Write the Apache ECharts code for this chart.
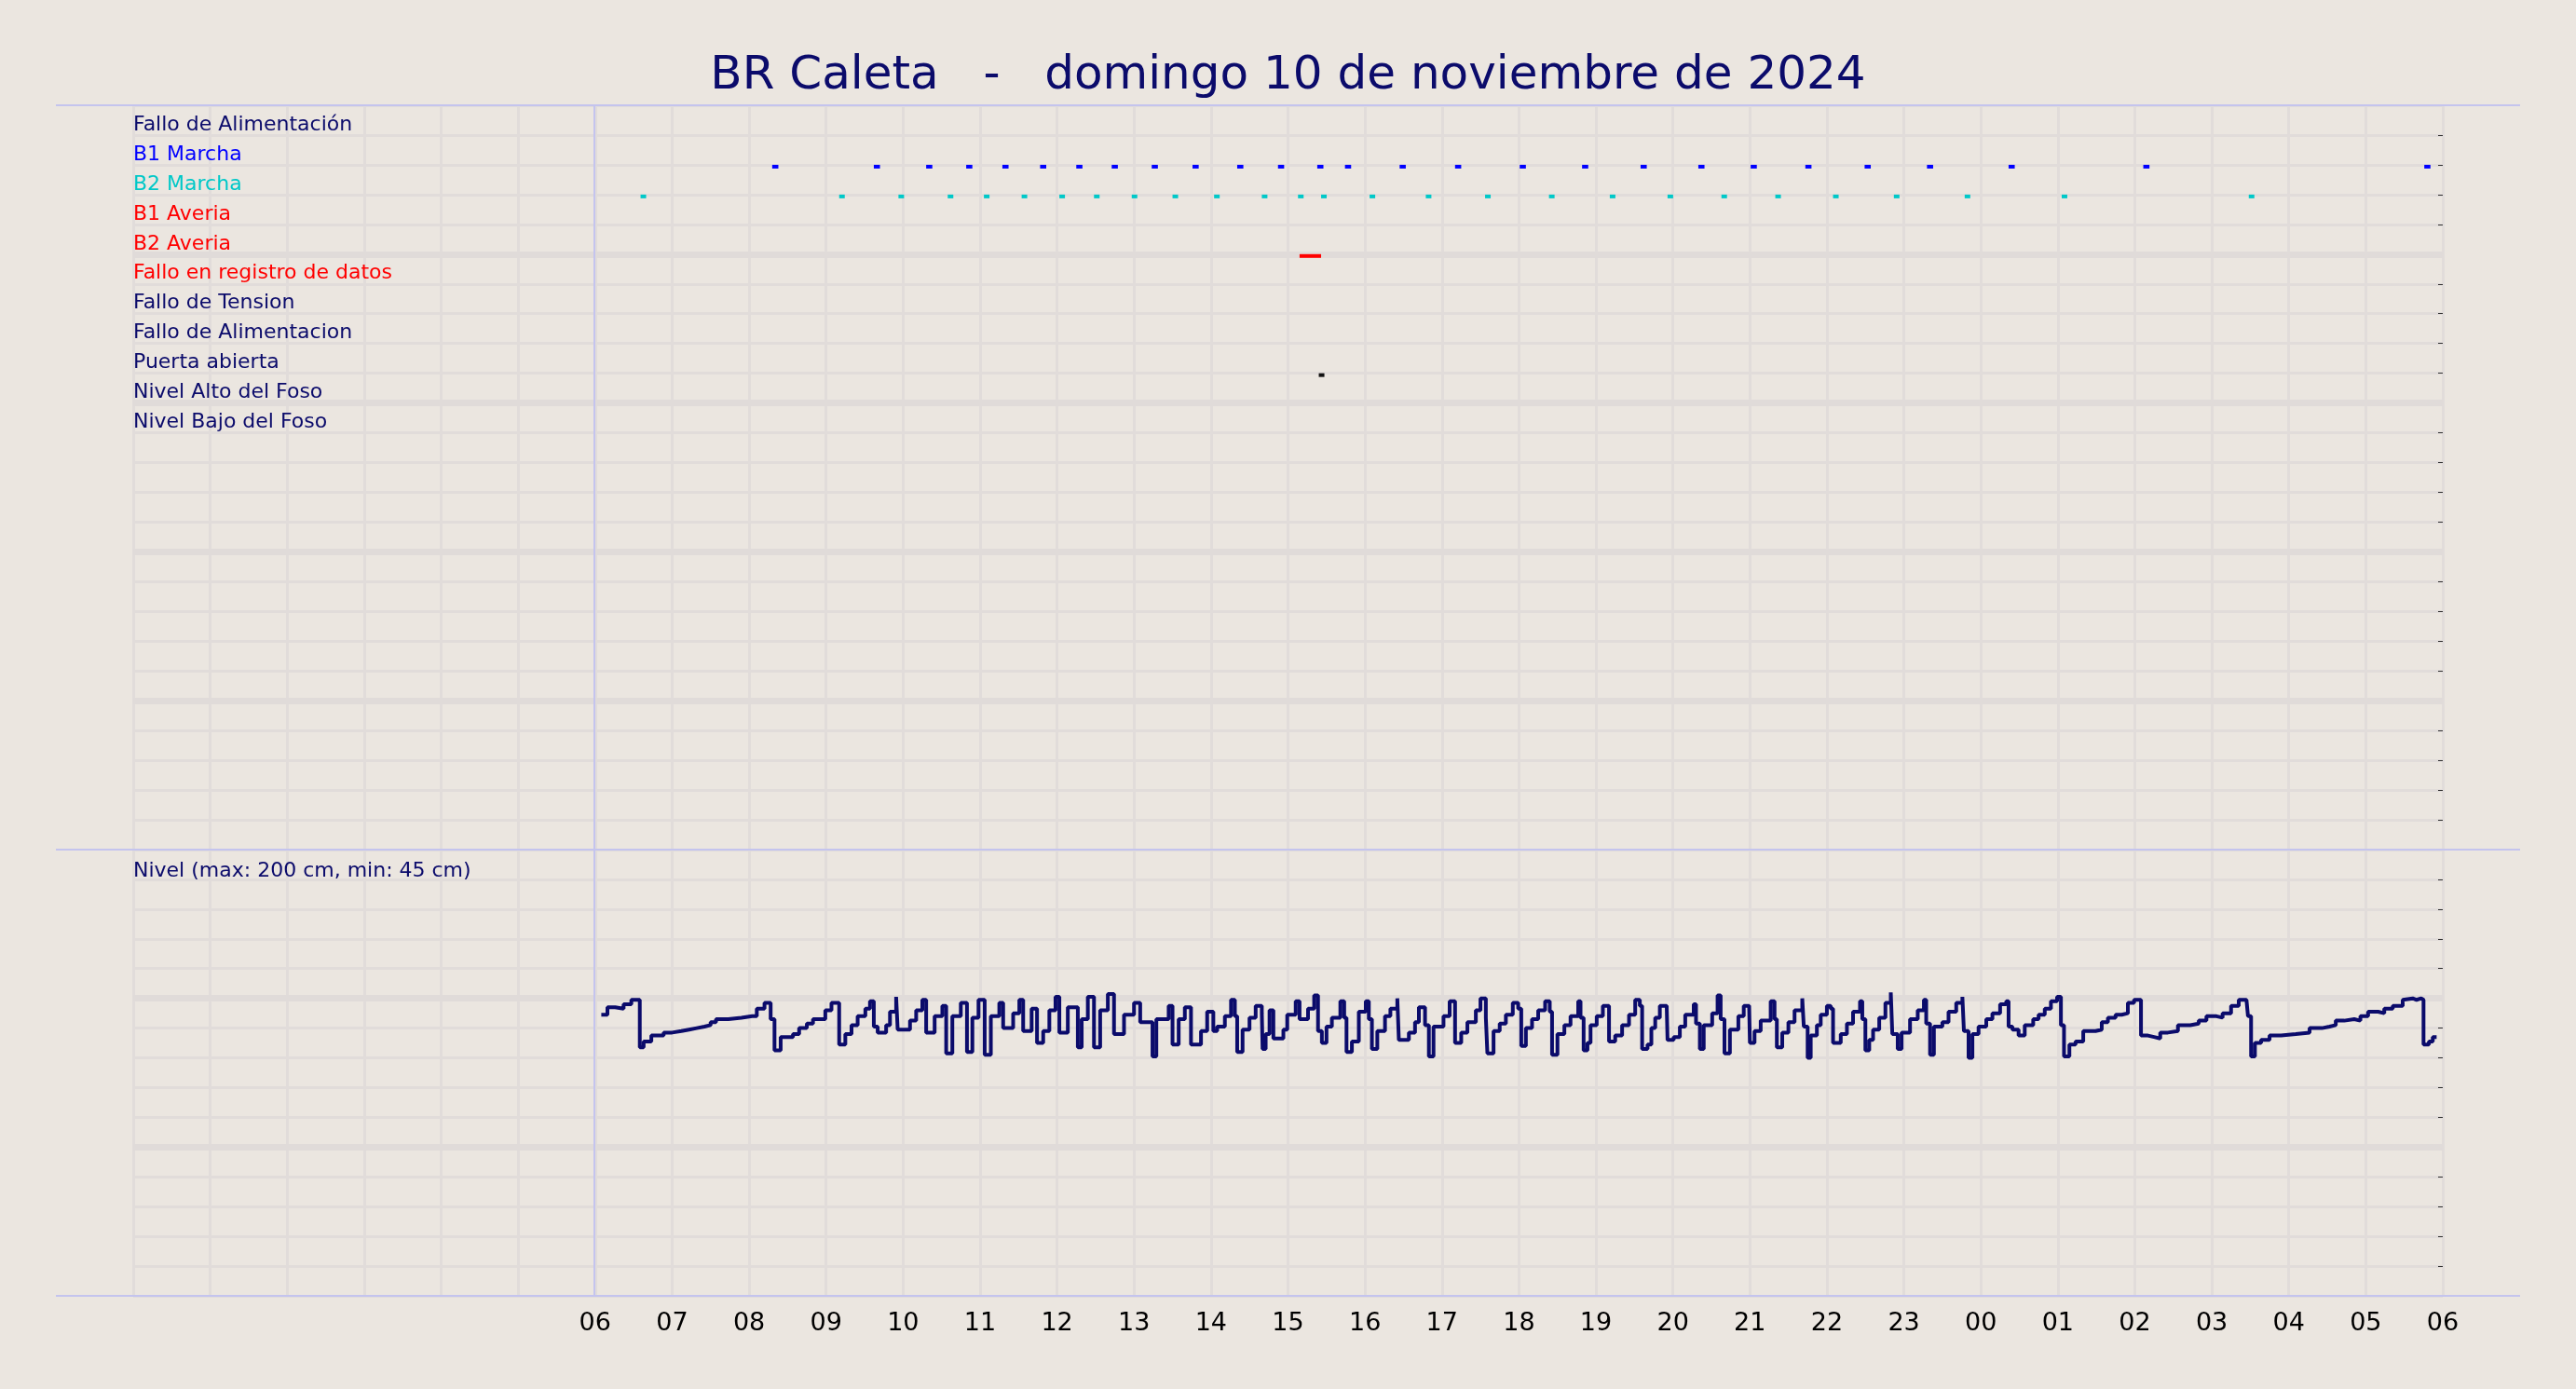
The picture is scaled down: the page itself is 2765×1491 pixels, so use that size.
<!DOCTYPE html>
<html>
<head>
<meta charset="utf-8">
<script src="https://cdn.jsdelivr.net/npm/echarts@6/dist/echarts.min.js"></script>
<style>html,body{margin:0;background:#ebe6e0}#main{width:2765px;height:1491px}</style>
</head>
<body>
<div id="main"></div>
<script>
// nombres de las señales
const signalNames = ['Fallo de Alimentación', 'B1 Marcha', 'B2 Marcha', 'B1 Averia', 'B2 Averia',
  'Fallo en registro de datos', 'Fallo de Tension', 'Fallo de Alimentacion', 'Puerta abierta',
  'Nivel Alto del Foso', 'Nivel Bajo del Foso']
const signalColors = ['#0b0b6b', '#0000ff', '#00c8c8', '#ff0000', '#ff0000', '#ff0000',
  '#0b0b6b', '#0b0b6b', '#0b0b6b', '#0b0b6b', '#0b0b6b']

// horas de arranque (horas desde 00:00 del día anterior)
const b1Marcha = [8.30, 9.62, 10.30, 10.82, 11.29, 11.78, 12.25, 12.71, 13.23, 13.76, 14.34, 14.87,
  15.38, 15.74, 16.45, 17.17, 18.01, 18.82, 19.58, 20.33, 21.01, 21.72, 22.49, 23.30, 24.36, 26.11, 29.76]
const b2Marcha = [6.59, 9.17, 9.94, 10.58, 11.05, 11.54, 12.03, 12.48, 12.97, 13.50, 14.04, 14.66,
  15.13, 15.43, 16.06, 16.79, 17.56, 18.39, 19.18, 19.93, 20.63, 21.33, 22.08, 22.87, 23.79, 25.05, 27.48]
const b2Averia = [[15.15, 15.43]]
const puertaAbierta = [15.40]

// nivel [hora, cm]
const nivel = [
  [6.08,189],[6.16,194],[6.26,193],[6.37,196],[6.47,199],[6.58,167],[6.63,171],[6.73,175],[6.89,177],
  [7.00,178],[7.12,179],[7.22,180],[7.32,181],[7.42,182],[7.50,184],
  [7.57,186],[7.73,187],[7.90,188],[8.04,188],[8.10,193],[8.20,197],[8.28,186],[8.33,165],[8.41,174],[8.57,176],
  [8.65,180],[8.75,183],[8.83,186],[8.99,192],[9.07,197],[9.17,169],[9.25,176],[9.33,182],[9.41,188],
  [9.51,193],[9.57,198],[9.62,181],[9.67,177],[9.78,182],[9.83,191],[9.91,201],[9.93,179],[10.09,185],
  [10.17,192],[10.25,199],[10.30,177],[10.41,188],[10.51,195],[10.56,163],[10.64,188],[10.75,197],
  [10.83,164],[10.90,187],[10.98,199],[11.06,162],[11.14,188],[11.25,197],[11.30,180],[11.43,190],
  [11.51,199],[11.56,178],[11.67,193],[11.74,170],[11.82,178],[11.90,192],[11.98,201],[12.03,177],
  [12.14,194],[12.27,167],[12.32,186],[12.40,201],[12.48,167],[12.56,192],[12.66,203],[12.74,176],
  [12.87,189],[13.00,197],[13.08,184],[13.24,161],[13.29,186],[13.45,195],[13.50,169],[13.58,186],
  [13.66,194],[13.74,169],[13.87,178],[13.95,191],[14.03,178],[14.08,181],[14.18,188],[14.26,199],
  [14.31,188],[14.34,164],[14.41,179],[14.50,187],[14.58,195],[14.66,190],[14.67,166],[14.71,176],
  [14.76,192],[14.81,173],[14.94,179],[14.99,189],[15.10,198],[15.15,186],[15.26,193],[15.34,202],
  [15.39,178],[15.44,170],[15.50,181],[15.57,187],[15.68,198],[15.73,187],[15.76,164],[15.83,171],
  [15.92,191],[16.01,198],[16.05,186],[16.09,166],[16.16,178],[16.26,188],[16.33,193],[16.42,200],
  [16.44,172],[16.57,177],[16.65,184],[16.70,194],[16.78,182],[16.83,161],[16.89,181],[17.02,188],
  [17.10,198],[17.17,170],[17.25,177],[17.33,184],[17.44,192],[17.50,200],[17.57,187],[17.59,163],
  [17.67,178],[17.75,183],[17.83,189],[17.92,197],[17.99,193],[18.03,168],[18.09,180],[18.17,186],
  [18.25,192],[18.34,198],[18.40,191],[18.43,162],[18.50,176],[18.59,182],[18.67,188],[18.77,198],
  [18.80,187],[18.84,165],[18.89,170],[18.93,182],[19.01,188],[19.09,195],[19.17,171],[19.25,175],
  [19.34,182],[19.43,189],[19.51,199],[19.57,195],[19.60,166],[19.67,169],[19.72,180],[19.77,187],
  [19.83,195],[19.92,193],[19.93,172],[20.01,174],[20.09,181],[20.16,189],[20.27,196],[20.30,183],
  [20.35,166],[20.40,182],[20.51,190],[20.58,202],[20.62,186],[20.67,163],[20.74,179],[20.85,188],
  [20.92,195],[20.99,194],[21.00,170],[21.06,178],[21.14,185],[21.27,198],[21.32,186],[21.35,167],
  [21.42,177],[21.50,184],[21.58,192],[21.68,200],[21.70,181],[21.75,160],[21.79,175],[21.87,182],
  [21.92,189],[22.00,195],[22.05,193],[22.08,170],[22.18,176],[22.26,183],[22.34,191],[22.43,198],
  [22.46,186],[22.50,165],[22.55,172],[22.60,179],[22.68,187],[22.76,197],[22.83,204],[22.85,176],
  [22.92,166],[22.97,177],[23.08,186],[23.18,192],[23.26,199],[23.29,183],[23.34,162],[23.39,181],
  [23.50,184],[23.58,191],[23.68,197],[23.76,201],[23.78,178],[23.84,160],[23.89,176],[23.97,181],
  [24.07,186],[24.15,190],[24.25,196],[24.33,198],[24.36,181],[24.41,179],[24.49,175],[24.57,182],
  [24.68,186],[24.75,189],[24.83,193],[24.91,198],[24.99,201],[25.04,182],[25.08,161],[25.15,169],
  [25.23,171],[25.33,178],[25.49,179],[25.57,184],[25.65,187],[25.75,189],[25.83,190],[25.91,197],
  [25.99,199],[26.08,175],[26.17,174],[26.25,173],[26.33,177],[26.43,178],[26.56,182],[26.72,183],
  [26.83,185],[26.93,188],[27.06,187],[27.14,190],[27.25,195],[27.35,199],[27.45,200],[27.47,188],
  [27.51,161],[27.56,170],[27.64,172],[27.75,175],[27.90,176],[28.09,177],[28.27,180],[28.43,181],
  [28.53,182],[28.61,185],[28.72,186],[28.85,185],[28.93,188],[29.03,191],[29.16,190],[29.24,193],
  [29.35,195],[29.48,199],[29.50,200],[29.61,199],[29.66,200],[29.72,199],[29.75,169],[29.82,171],[29.87,174],[29.92,174]
]
const hourLabels = ['06','07','08','09','10','11','12','13','14','15','16','17','18','19','20','21','22','23','00','01','02','03','04','05','06']

// segmentos de eventos: [inicio, fin, fila, color]
const eventos = []
b1Marcha.forEach(h => eventos.push([h, h + 0.08, 2, signalColors[1]]))
b2Marcha.forEach(h => eventos.push([h, h + 0.07, 3, signalColors[2]]))
b2Averia.forEach(r => eventos.push([r[0], r[1], 5, signalColors[4]]))
puertaAbierta.forEach(h => eventos.push([h, h + 0.05, 9, '#111111']))

const gridColor = '#e1dcda'
const navy = '#0b0b6b'
const sepColor = '#c4c4ee'
const xBase = {
  type: 'value', min: 0, max: 30, interval: 1,
  axisLine: { show: false }, axisTick: { show: false },
  splitLine: { show: true, lineStyle: { color: gridColor, width: 3 } }
}
const chart = echarts.init(document.getElementById('main'))
chart.setOption({
  backgroundColor: '#ebe6e0',
  animation: false,
  title: {
    text: 'BR Caleta   -   domingo 10 de noviembre de 2024', left: 'center', top: 52,
    textStyle: { color: navy, fontSize: 50, fontWeight: 'normal', fontFamily: 'DejaVu Sans' }
  },
  grid: [
    { left: 143, top: 113, width: 2479, height: 799 },
    { left: 143, top: 912, width: 2479, height: 479 }
  ],
  xAxis: [
    Object.assign({ gridIndex: 0, axisLabel: { show: false } }, xBase),
    Object.assign({ gridIndex: 1, axisLabel: {
      show: true, fontSize: 27, color: '#000', fontFamily: 'DejaVu Sans', margin: 16,
      formatter: v => (v >= 6 ? hourLabels[v - 6] : '')
    } }, xBase)
  ],
  yAxis: [
    { gridIndex: 0, type: 'value', min: 0, max: 25, interval: 1, inverse: true,
      axisLine: { show: false }, axisTick: { show: false },
      splitLine: { lineStyle: { color: gridColor, width: 3 } },
      axisLabel: { inside: true, margin: 0, verticalAlign: 'bottom', fontSize: 22, fontFamily: 'DejaVu Sans',
        formatter: v => (v >= 1 && v <= 11 ? signalNames[v - 1] : ''),
        color: (v) => signalColors[Math.max(0, Math.min(10, Math.round(v) - 1))] } },
    { gridIndex: 0, type: 'value', min: 0, max: 25, interval: 1, inverse: true, position: 'right',
      axisLine: { show: false }, splitLine: { show: false }, axisLabel: { show: false },
      axisTick: { show: true, inside: true, length: 5, lineStyle: { color: '#333' } } },
    { gridIndex: 1, type: 'value', min: 0, max: 300, interval: 20,
      axisLine: { show: false }, axisTick: { show: false }, axisLabel: { show: false },
      splitLine: { lineStyle: { color: gridColor, width: 3 } } },
    { gridIndex: 1, type: 'value', min: 0, max: 300, interval: 20, position: 'right',
      axisLine: { show: false }, splitLine: { show: false }, axisLabel: { show: false },
      axisTick: { show: true, inside: true, length: 5, lineStyle: { color: '#333' } } }
  ],
  graphic: [
    { type: 'line', z: 100, shape: { x1: 60, y1: 113, x2: 2705, y2: 113 }, style: { stroke: sepColor, lineWidth: 2 } },
    { type: 'line', z: 100, shape: { x1: 60, y1: 912, x2: 2705, y2: 912 }, style: { stroke: sepColor, lineWidth: 2 } },
    { type: 'line', z: 100, shape: { x1: 60, y1: 1391, x2: 2705, y2: 1391 }, style: { stroke: sepColor, lineWidth: 2 } },
    { type: 'line', z: 100, shape: { x1: 638, y1: 113, x2: 638, y2: 1391 }, style: { stroke: sepColor, lineWidth: 2 } },
    { type: 'text', z: 100, left: 143, top: 924, style: { text: 'Nivel (max: 200 cm, min: 45 cm)', fill: navy, fontSize: 22, fontFamily: 'DejaVu Sans' } }
  ],
  series: [
    { type: 'line', xAxisIndex: 0, yAxisIndex: 0, data: [], silent: true, z: 1,
      markLine: { silent: true, symbol: 'none', label: { show: false },
        lineStyle: { color: '#e0dbd9', width: 7, type: 'solid' },
        data: [{ yAxis: 5 }, { yAxis: 10 }, { yAxis: 15 }, { yAxis: 20 }] } },
    { type: 'custom', xAxisIndex: 0, yAxisIndex: 0, data: eventos, z: 10,
      renderItem: (params, api) => {
        const a = api.coord([api.value(0), api.value(2)])
        const b = api.coord([api.value(1), api.value(2)])
        return { type: 'line', z2: 10, shape: { x1: a[0], y1: a[1] + 2, x2: Math.max(b[0], a[0] + 6), y2: b[1] + 2 },
          style: { stroke: eventos[params.dataIndex][3], lineWidth: 4 } }
      } },
    { type: 'line', xAxisIndex: 1, yAxisIndex: 2, data: [], silent: true, z: 1,
      markLine: { silent: true, symbol: 'none', label: { show: false },
        lineStyle: { color: '#e0dbd9', width: 7, type: 'solid' }, data: [{ yAxis: 200 }, { yAxis: 100 }] } },
    { type: 'line', xAxisIndex: 1, yAxisIndex: 2, data: nivel, step: 'end', symbol: 'none', showSymbol: false, z: 10,
      lineStyle: { color: navy, width: 4 },
      markPoint: { symbol: 'circle', symbolSize: 0, itemStyle: { opacity: 0 },
        label: { show: true, color: navy, fontSize: 26, fontFamily: 'DejaVu Sans' },
        data: [
          { coord: [12.23, 209], value: '204cm', label: { formatter: '204cm', offset: [0, -8] } },
          { coord: [29.4, 163], value: '174cm', label: { formatter: '174cm', offset: [0, 0] } }
        ] } }
  ]
})
</script>
</body>
</html>
